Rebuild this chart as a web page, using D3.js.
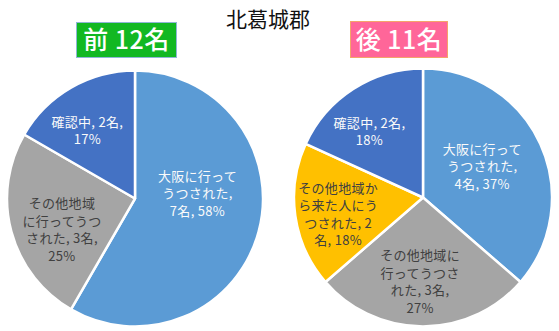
<!DOCTYPE html>
<html><head><meta charset="utf-8">
<script src="https://cdn.jsdelivr.net/npm/d3@7"></script>
<style>body{margin:0;background:#fff;}svg{display:block;font-family:"Noto Sans CJK JP","Noto Sans",sans-serif;}</style>
</head><body><svg id="c" width="559" height="331"></svg>
<script>
const title = "北葛城郡";
const beforeBadge = "前 12名";
const afterBadge = "後 11名";
const beforeCategories = ["大阪に行ってうつされた", "その他地域に行ってうつされた", "確認中"];
const beforeValues = [7, 3, 2];
const beforeLabels = [["大阪に行って","うつされた,","7名, 58%"],["その他地域","に行ってうつ","された, 3名,","25%"],["確認中, 2名,","17%"]];
const afterCategories = ["大阪に行ってうつされた", "その他地域に行ってうつされた", "その他地域から来た人にうつされた", "確認中"];
const afterValues = [4, 3, 2, 2];
const afterLabels = [["大阪に行って","うつされた,","4名, 37%"],["その他地域に","行ってうつさ","れた, 3名,","27%"],["その他地域か","ら来た人にう","つされた, 2","名, 18%"],["確認中, 2名,","18%"]];

const colorMap = {"大阪に行ってうつされた":"#5B9BD5","その他地域に行ってうつされた":"#A5A5A5","その他地域から来た人にうつされた":"#FFC000","確認中":"#4472C4"};
const textMap = {"大阪に行ってうつされた":"#fafafa","その他地域に行ってうつされた":"#404040","その他地域から来た人にうつされた":"#404040","確認中":"#fafafa"};

const svg = d3.select("#c");
svg.append("text").attr("x",268).attr("y",27).attr("text-anchor","middle").attr("font-size",21).attr("fill","#111").text(title);

function badge(x,y,w,h,fill,stroke,txt){
  svg.append("rect").attr("x",x).attr("y",y).attr("width",w).attr("height",h).attr("fill",fill).attr("stroke",stroke).attr("stroke-width",1);
  svg.append("text").attr("x",x+w/2).attr("y",y+h/2+9).attr("text-anchor","middle").attr("font-size",25).attr("font-weight",500).attr("letter-spacing",0.5).attr("fill","#fff").text(txt);
}
badge(76.5,22.5,100,35,"#12B822","#8fb6d6",beforeBadge);
badge(350.5,21.5,97,36,"#FF6699","#F4A46A",afterBadge);

// label placement layout: [radius fraction, angle in degrees clockwise from top]
const beforeLabelPolar = [[0.49,85],[0.62,247],[0.65,325]];
const afterLabelPolar = [[0.52,62],[0.65,182],[0.67,259],[0.66,321]];

function drawPie(cx,cy,R,cats,vals,labels,polar){
  const g = svg.append("g").attr("transform",`translate(${cx},${cy})`);
  const data = cats.map((c,i)=>({cat:c,value:vals[i],lines:labels[i],polar:polar[i]}));
  const pie = d3.pie().value(d=>d.value).sort(null);
  const arc = d3.arc().innerRadius(0).outerRadius(R);
  const arcs = pie(data);
  g.selectAll("path").data(arcs).join("path").attr("d",arc)
    .attr("fill",d=>colorMap[d.data.cat]).attr("stroke","#fff").attr("stroke-width",2.5).attr("stroke-linejoin","round");
  const lh = 17.5;
  arcs.forEach(d=>{
    const [f,ang] = d.data.polar;
    const a = ang*Math.PI/180;
    const x = Math.sin(a)*R*f, y = -Math.cos(a)*R*f;
    const n = d.data.lines.length;
    const t = g.append("text").attr("text-anchor","middle").attr("font-size",13).attr("letter-spacing",0.3).attr("fill",textMap[d.data.cat]);
    d.data.lines.forEach((ln,i)=>{
      t.append("tspan").attr("x",x).attr("y",y+(i-(n-1)/2)*lh+5).text(ln);
    });
  });
}
drawPie(135,198.5,128,beforeCategories,beforeValues,beforeLabels,beforeLabelPolar);
drawPie(423,197.5,129,afterCategories,afterValues,afterLabels,afterLabelPolar);
</script></body></html>
